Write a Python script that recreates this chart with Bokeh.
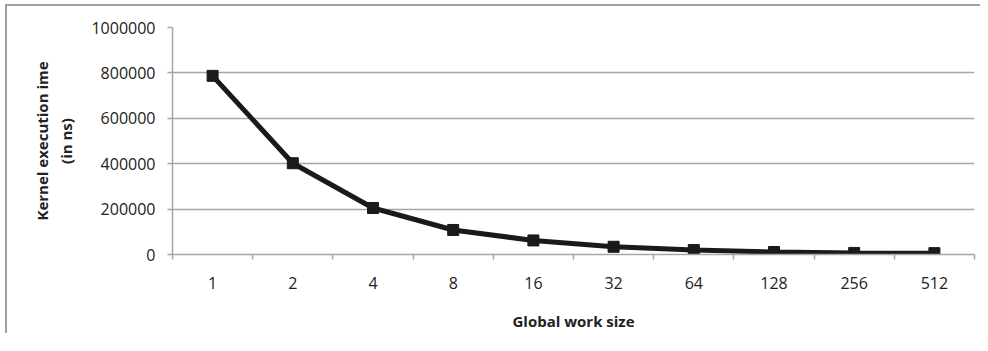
from bokeh.plotting import figure
from bokeh.models import Range1d, FixedTicker, ColumnDataSource
from bokeh.embed import file_html
from bokeh.resources import INLINE

categories = ["1", "2", "4", "8", "16", "32", "64", "128", "256", "512"]
kernel_time_ns = [787000, 402000, 205000, 108000, 62000, 34000, 20000, 11000, 7000, 6000]
y_ticks = [0, 200000, 400000, 600000, 800000, 1000000]

xs = [i + 0.5 for i in range(len(categories))]
src = ColumnDataSource(dict(x=xs, y=kernel_time_ns, cat=categories))

FONT = "Open Sans"
GRID = "#a6a6a6"

p = figure(frame_width=802, frame_height=227, output_backend="svg", toolbar_location=None,
           x_range=Range1d(0, len(categories)), y_range=Range1d(0, 1000000),
           min_border_left=165, min_border_right=6, min_border_top=21, min_border_bottom=10)
p.outline_line_color = None
p.background_fill_color = "white"
p.border_fill_color = "white"
p.styles = {"border-top": "2px solid #a0a0a0", "border-left": "2px solid #a0a0a0",
            "margin-left": "5px", "margin-top": "4px"}

# x axis: labels at category centres, ticks at category boundaries
p.xaxis.ticker = FixedTicker(ticks=xs, minor_ticks=list(range(len(categories) + 1)))
p.xaxis.major_label_overrides = {x: c for x, c in zip(xs, categories)}
p.xaxis.major_tick_line_color = None
p.xaxis.major_tick_out = 16
p.xaxis.major_tick_in = 0
p.xaxis.minor_tick_line_color = GRID
p.xaxis.minor_tick_out = 5
p.xaxis.minor_tick_in = 0
p.xaxis.minor_tick_line_width = 1.5
p.xaxis.major_label_standoff = 6
p.xaxis.axis_line_color = GRID
p.xaxis.axis_line_width = 1.5
p.xaxis.axis_label = "Global work size"
p.xaxis.axis_label_text_font = FONT
p.xaxis.axis_label_text_font_style = "bold"
p.xaxis.axis_label_text_font_size = "15px"
p.xaxis.axis_label_text_color = "#222222"
p.xaxis.axis_label_standoff = 19
p.xaxis.major_label_text_font = FONT
p.xaxis.major_label_text_font_size = "16px"
p.xaxis.major_label_text_color = "#222222"

p.yaxis.ticker = FixedTicker(ticks=y_ticks)
p.yaxis.formatter.use_scientific = False
p.yaxis.minor_tick_line_color = None
p.yaxis.major_tick_line_color = GRID
p.yaxis.major_tick_line_width = 1.5
p.yaxis.major_tick_out = 5
p.yaxis.major_tick_in = 0
p.yaxis.major_label_standoff = 12
p.yaxis.axis_line_color = GRID
p.yaxis.axis_line_width = 1.5
p.yaxis.major_label_text_font = FONT
p.yaxis.major_label_text_font_size = "16px"
p.yaxis.major_label_text_color = "#222222"
p.yaxis.axis_label = "Kernel execution ime\n(in ns)"
p.yaxis.axis_label_text_font = FONT
p.yaxis.axis_label_text_font_style = "bold"
p.yaxis.axis_label_text_font_size = "15px"
p.yaxis.axis_label_text_color = "#222222"
p.yaxis.axis_label_standoff = 12

p.xgrid.grid_line_color = None
p.ygrid.ticker = FixedTicker(ticks=y_ticks)
p.ygrid.grid_line_color = GRID
p.ygrid.grid_line_width = 1.5

p.line("x", "y", source=src, line_color="#1a1a1a", line_width=5)
p.scatter("x", "y", source=src, marker="square", size=11, fill_color="#1a1a1a", line_color="#1a1a1a")

open("out.html", "w").write(file_html(p, INLINE))
